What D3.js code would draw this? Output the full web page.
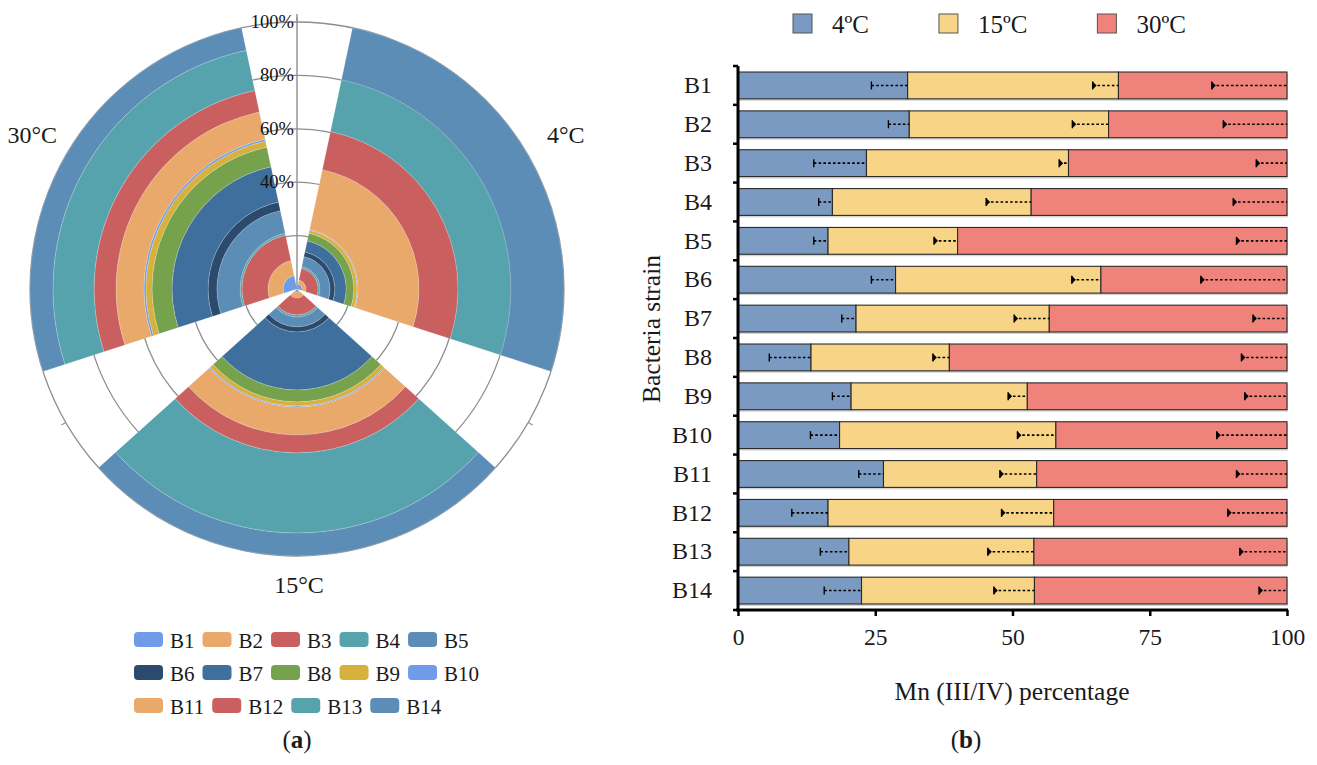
<!DOCTYPE html>
<html>
<head>
<meta charset="utf-8">
<script src="https://cdn.jsdelivr.net/npm/d3@7"></script>
<style>
  body { margin: 0; background: #fff; }
  svg text { font-family: "Liberation Serif", "Times New Roman", serif; fill: #1a1a1a; }
</style>
</head>
<body>
<svg id="fig" width="1317" height="765"></svg>
<script>
// ---------- data: panel (a), stacked polar rings ----------
const strains = ["B1","B2","B3","B4","B5","B6","B7","B8","B9","B10","B11","B12","B13","B14"];
const polarTemps = ["4°C","15°C","30°C"];
// ring thickness of each strain (percent of the radial axis)
const ring4  = [1.9, 1.5, 4.5, 0.7, 3.8, 1.8, 4.2, 2.9, 1.2, 0.3, 22.9, 14.6, 19.8, 19.9];
const ring15 = [1.1, 2.3, 6.3, 0.8, 3.7, 1.9, 21.7, 4.5, 1.5, 0.4, 10.5, 6.7, 30.0, 8.6];
const ring30 = [5.2, 5.7, 9.7, 0.7, 8.7, 3.3, 13.5, 7.5, 2.3, 0.7, 10.5, 8.2, 15.4, 8.6];
const strainColors = ["#6f9be8","#e9a96a","#ca5f60","#57a3ad","#5b8db7","#2b4a6e","#3f6f9d",
                      "#76a24e","#d6b13d","#6f9be8","#e9a96a","#ca5f60","#57a3ad","#5b8db7"];
const radialTicks = [20, 40, 60, 80, 100];
const radialLabelTicks = [40, 60, 80, 100];
const legendRows = [["B1","B2","B3","B4","B5"],["B6","B7","B8","B9","B10"],["B11","B12","B13","B14"]];

// ---------- data: panel (b), stacked bars ----------
const barTemps = ["4ºC","15ºC","30ºC"];
const pct4  = [30.9, 31.2, 23.4, 17.2, 16.4, 28.7, 21.5, 13.3, 20.6, 18.5, 26.5, 16.4, 20.2, 22.5];
const pct15 = [38.4, 36.3, 36.8, 36.2, 23.6, 37.4, 35.2, 25.2, 32.1, 39.4, 27.9, 41.1, 33.7, 31.5];
const pct30 = [30.7, 32.5, 39.8, 46.6, 60.0, 33.9, 43.3, 61.5, 47.3, 42.1, 45.6, 42.5, 46.1, 46.0];
const sd4   = [6.6, 3.8, 9.6, 2.5, 2.6, 4.4, 2.6, 7.6, 3.4, 5.3, 4.5, 6.6, 5.2, 6.8];
const sd15  = [4.7, 6.6, 1.7, 8.2, 4.3, 5.3, 6.4, 3.0, 3.5, 7.0, 6.7, 9.5, 8.4, 7.4];
const sd30  = [13.7, 11.6, 5.6, 9.8, 9.2, 15.7, 6.2, 8.3, 7.7, 12.8, 9.2, 10.8, 8.6, 5.1];
const barColors = ["#7b9ac2", "#f8d486", "#ef837b"];
const xTicks = [0, 25, 50, 75, 100];

const svg = d3.select("#fig");

// =============== panel (a) ===============
const cx = 297, cy = 289, R = 267;
const gA = svg.append("g").attr("transform", `translate(${cx},${cy})`);
const rScale = d3.scaleLinear().domain([0, 100]).range([0, R]);
const aScale = d3.scaleBand().domain(polarTemps).range([0, 2 * Math.PI])
  .paddingInner(0.2).paddingOuter(0.1);

// concentric grid circles
gA.selectAll("circle.grid").data(radialTicks).join("circle")
  .attr("class", "grid").attr("r", d => rScale(d))
  .attr("fill", "none").attr("stroke", "#8e8e8e").attr("stroke-width", 1.3);

// category boundary ticks on the outer circle
const boundaryAngles = polarTemps.map((t, i) => i * aScale.step());
gA.selectAll("line.atick").data(boundaryAngles).join("line")
  .attr("x1", a => R * Math.sin(a)).attr("y1", a => -R * Math.cos(a))
  .attr("x2", a => (R + 5) * Math.sin(a)).attr("y2", a => -(R + 5) * Math.cos(a))
  .attr("stroke", "#8e8e8e").attr("stroke-width", 1.2);

// stacked rings
const ringByTemp = [ring4, ring15, ring30];
const ringRows = polarTemps.map((t, i) => {
  const row = { temp: t };
  strains.forEach((s, j) => row[s] = ringByTemp[i][j]);
  return row;
});
const ringStack = d3.stack().keys(strains)(ringRows);
const arc = d3.arc();
ringStack.forEach((series, j) => {
  gA.append("g").selectAll("path").data(series).join("path")
    .attr("d", d => arc({
      innerRadius: rScale(d[0]), outerRadius: rScale(d[1]),
      startAngle: aScale(d.data.temp), endAngle: aScale(d.data.temp) + aScale.bandwidth()
    }))
    .attr("fill", strainColors[j])
    .attr("stroke", "rgba(255,255,255,0.22)").attr("stroke-width", 0.8);
});

// radial axis line and labels
gA.append("line").attr("x1", 0).attr("y1", 0).attr("x2", 0).attr("y2", -R - 8)
  .attr("stroke", "#8e8e8e").attr("stroke-width", 1.4);
gA.selectAll("text.rlab").data(radialLabelTicks).join("text")
  .attr("class", "rlab")
  .attr("x", -3).attr("y", d => -rScale(d))
  .attr("text-anchor", "end").attr("dominant-baseline", "central")
  .attr("font-size", 18.5).style("fill", "#111")
  .text(d => d + "%");

// category labels
gA.selectAll("text.tlab").data(polarTemps).join("text")
  .attr("class", "tlab")
  .each(function (t) {
    const a = aScale(t) + aScale.bandwidth() / 2;
    const rr = Math.abs(Math.cos(a)) > 0.99 ? R + 29 : R + 41;
    d3.select(this).attr("x", rr * Math.sin(a) + 2).attr("y", -rr * Math.cos(a));
  })
  .attr("text-anchor", "middle").attr("dominant-baseline", "central")
  .attr("font-size", 24).text(t => t);

// legend of strains
const legA = svg.append("g").attr("transform", "translate(134,632)");
legendRows.forEach((row, ri) => {
  let xPos = 0;
  row.forEach(name => {
    const j = strains.indexOf(name);
    const item = legA.append("g").attr("transform", `translate(${xPos},${ri * 33})`);
    item.append("rect").attr("x", 0).attr("y", 0).attr("width", 29).attr("height", 15)
      .attr("rx", 4).attr("fill", strainColors[j]);
    const txt = item.append("text").attr("x", 36).attr("y", 9)
      .attr("dominant-baseline", "central").attr("font-size", 21).text(name);
    xPos += 36 + txt.node().getComputedTextLength() + 8;
  });
});

// panel tag
svg.append("text").attr("x", 297).attr("y", 748).attr("text-anchor", "middle")
  .attr("font-size", 25)
  .html('(<tspan font-weight="bold">a</tspan>)');

// =============== panel (b) ===============
const x = d3.scaleLinear().domain([0, 100]).range([738, 1287]);
const y = d3.scaleBand().domain(strains).range([66, 610]).paddingInner(0.31).paddingOuter(0.155);

const barRows = strains.map((s, i) => ({
  strain: s, [barTemps[0]]: pct4[i], [barTemps[1]]: pct15[i], [barTemps[2]]: pct30[i]
}));
const sdByTemp = [sd4, sd15, sd30];
const barStack = d3.stack().keys(barTemps)(barRows);
const gB = svg.append("g");

// soft shadow under each bar
gB.append("g").selectAll("rect").data(barRows).join("rect")
  .attr("x", x(0) + 1).attr("y", d => y(d.strain) + 2)
  .attr("width", x(100) - x(0)).attr("height", y.bandwidth())
  .attr("fill", "#d4d4d4");

barStack.forEach((series, k) => {
  gB.append("g").selectAll("rect").data(series).join("rect")
    .attr("x", d => x(d[0])).attr("y", d => y(d.data.strain))
    .attr("width", d => x(d[1]) - x(d[0])).attr("height", y.bandwidth())
    .attr("fill", barColors[k]).attr("stroke", "#2a2a2a").attr("stroke-width", 1.1);
});

// error bars (dotted, pointing back from each segment end)
barStack.forEach((series, k) => {
  const g = gB.append("g");
  series.forEach((d, i) => {
    const yc = y(d.data.strain) + y.bandwidth() / 2;
    const x1 = x(d[1]), x0 = x(d[1] - sdByTemp[k][i]);
    g.append("line").attr("x1", x0).attr("x2", x1).attr("y1", yc).attr("y2", yc)
      .attr("stroke", "#000").attr("stroke-width", 1.6).attr("stroke-dasharray", "2.6,2.2");
    g.append("line").attr("x1", x0).attr("x2", x0).attr("y1", yc - 4).attr("y2", yc + 4)
      .attr("stroke", "#000").attr("stroke-width", 1.4);
    if (k > 0) {
      g.append("path").attr("d", `M${x0},${yc - 4}L${x0 + 4},${yc}L${x0},${yc + 4}Z`).attr("fill", "#000");
    }
  });
});

// x axis
const xAxis = svg.append("g").attr("transform", "translate(0,610)")
  .call(d3.axisBottom(x).tickValues(xTicks).tickSize(6).tickSizeOuter(0).tickPadding(12));
xAxis.select(".domain").attr("stroke", "#000").attr("stroke-width", 3)
  .attr("d", `M${x(0) - 2},0H${x(100) + 1}`);
xAxis.selectAll(".tick line").attr("stroke", "#000").attr("stroke-width", 2.5);
xAxis.selectAll(".tick text").attr("font-size", 23.5)
  .attr("font-family", '"Liberation Serif", serif').style("fill", "#1a1a1a");

// y axis with labels and band-edge ticks
const yAxis = svg.append("g").attr("transform", `translate(${x(0)},0)`)
  .call(d3.axisLeft(y).tickSize(0).tickPadding(26).tickSizeOuter(0));
yAxis.select(".domain").attr("stroke", "#000").attr("stroke-width", 3)
  .attr("d", `M0,${y.range()[0]}V${y.range()[1]}`);
yAxis.selectAll(".tick text").attr("font-size", 24)
  .attr("font-family", '"Liberation Serif", serif').style("fill", "#1a1a1a");
const edges = d3.range(strains.length + 1).map(i => y.range()[0] + i * y.step());
yAxis.selectAll("line.edge").data(edges).join("line").attr("class", "edge")
  .attr("x1", 0).attr("x2", -5).attr("y1", d => d).attr("y2", d => d)
  .attr("stroke", "#000").attr("stroke-width", 2.5);

// axis titles
svg.append("text").attr("transform", "translate(651,329) rotate(-90)")
  .attr("text-anchor", "middle").attr("dominant-baseline", "central")
  .attr("font-size", 25.5).text("Bacteria strain");
svg.append("text").attr("x", 1012).attr("y", 691).attr("text-anchor", "middle")
  .attr("dominant-baseline", "central").attr("font-size", 25.5).text("Mn (III/IV) percentage");

// temperature legend
const legB = svg.append("g").attr("transform", "translate(793,14)");
let lx = 0;
barTemps.forEach((t, k) => {
  legB.append("rect").attr("x", lx).attr("y", 0).attr("width", 19).attr("height", 19)
    .attr("fill", barColors[k]).attr("stroke", "#555").attr("stroke-width", 1);
  const txt = legB.append("text").attr("x", lx + 39).attr("y", 10)
    .attr("dominant-baseline", "central").attr("font-size", 25).text(t);
  lx += 39 + txt.node().getComputedTextLength() + 70;
});

svg.append("text").attr("x", 966).attr("y", 748).attr("text-anchor", "middle")
  .attr("font-size", 25)
  .html('(<tspan font-weight="bold">b</tspan>)');
</script>
</body>
</html>
